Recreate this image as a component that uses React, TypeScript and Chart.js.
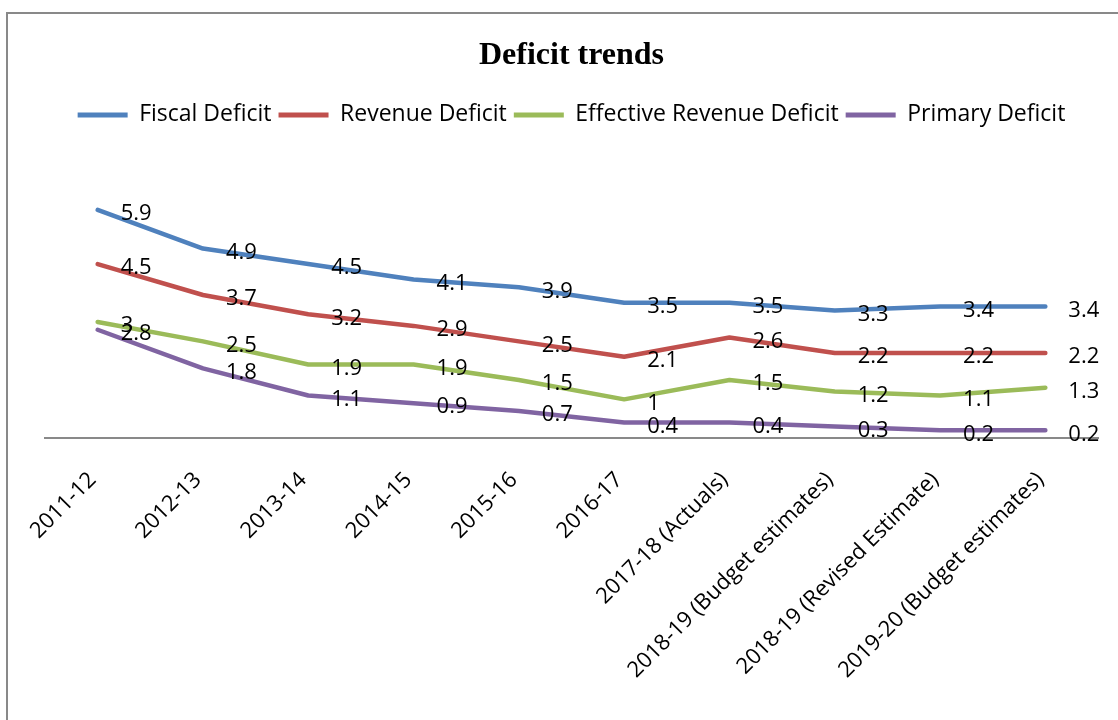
import React, { useEffect, useRef } from "react";
import { Chart, registerables } from "chart.js";

Chart.register(...registerables);

const categories = [
  "2011-12",
  "2012-13",
  "2013-14",
  "2014-15",
  "2015-16",
  "2016-17",
  "2017-18 (Actuals)",
  "2018-19 (Budget estimates)",
  "2018-19 (Revised Estimate)",
  "2019-20 (Budget estimates)",
];

const fiscalDeficit = [5.9, 4.9, 4.5, 4.1, 3.9, 3.5, 3.5, 3.3, 3.4, 3.4];
const revenueDeficit = [4.5, 3.7, 3.2, 2.9, 2.5, 2.1, 2.6, 2.2, 2.2, 2.2];
const effectiveRevenueDeficit = [3, 2.5, 1.9, 1.9, 1.5, 1, 1.5, 1.2, 1.1, 1.3];
const primaryDeficit = [2.8, 1.8, 1.1, 0.9, 0.7, 0.4, 0.4, 0.3, 0.2, 0.2];

const seriesNames = [
  "Fiscal Deficit",
  "Revenue Deficit",
  "Effective Revenue Deficit",
  "Primary Deficit",
];
const seriesColors = ["#4F81BD", "#C0504D", "#9BBB59", "#8064A2"];

const FONT = "'Open Sans', 'Noto Sans', sans-serif";

const dataLabelsPlugin = {
  id: "dataLabels",
  afterDatasetsDraw(chart: any) {
    const ctx = chart.ctx;
    ctx.save();
    ctx.font = `22px ${FONT}`;
    ctx.fillStyle = "#000";
    ctx.textAlign = "left";
    ctx.textBaseline = "middle";
    chart.data.datasets.forEach((ds: any, i: number) => {
      const meta = chart.getDatasetMeta(i);
      meta.data.forEach((pt: any, j: number) => {
        ctx.fillText(String(ds.data[j]), pt.x + 23, pt.y + 4);
      });
    });
    ctx.restore();
  },
};

const legendHeightPlugin = {
  id: "legendHeight",
  beforeInit(chart: any) {
    const legend = chart.legend;
    if (!legend) return;
    const origFit = legend.fit;
    legend.fit = function () {
      origFit.call(this);
      this.height = 71;
    };
  },
};

export default function App() {
  const canvasRef = useRef<HTMLCanvasElement | null>(null);

  useEffect(() => {
    if (!canvasRef.current) return;
    const seriesData = [fiscalDeficit, revenueDeficit, effectiveRevenueDeficit, primaryDeficit];
    const chart = new Chart(canvasRef.current, {
      type: "line",
      data: {
        labels: categories,
        datasets: seriesData.map((d, i) => ({
          label: seriesNames[i],
          data: d,
          borderColor: seriesColors[i],
          backgroundColor: seriesColors[i],
          borderWidth: 4.5,
          borderCapStyle: "round",
          borderJoinStyle: "round",
          pointRadius: 0,
          pointHoverRadius: 0,
          tension: 0,
          fill: false,
        })),
      },
      options: {
        animation: false,
        responsive: true,
        maintainAspectRatio: false,
        layout: { padding: { left: 45, right: 20, top: 0, bottom: 0 } },
        plugins: {
          tooltip: { enabled: false },
          title: {
            display: true,
            text: "Deficit trends",
            color: "#000",
            font: { family: "'Liberation Serif', 'Times New Roman', serif", size: 32, weight: "bold" },
            padding: { top: 37, bottom: 21 },
          },
          legend: {
            display: true,
            position: "top",
            labels: {
              color: "#000",
              font: { family: FONT, size: 23 },
              boxWidth: 50,
              boxHeight: 5,
              useBorderRadius: true,
              borderRadius: 2.5,
              padding: 7,
              generateLabels: (c: any) =>
                c.data.datasets.map((ds: any, i: number) => ({
                  text: ds.label,
                  fillStyle: ds.borderColor,
                  strokeStyle: ds.borderColor,
                  lineWidth: 0,
                  hidden: false,
                  datasetIndex: i,
                  fontColor: "#000",
                })),
            },
          },
        },
        scales: {
          x: {
            offset: true,
            grid: { display: false },
            border: { display: true, color: "#898989", width: 2 },
            ticks: {
              autoSkip: false,
              minRotation: 45,
              maxRotation: 45,
              padding: 21,
              labelOffset: -5,
              color: "#000",
              font: { family: FONT, size: 22 },
            },
            afterFit: (axis: any) => {
              axis.height = 282;
            },
          },
          y: {
            display: false,
            min: 0,
            max: 7,
          },
        },
      },
      plugins: [dataLabelsPlugin, legendHeightPlugin],
    } as any);
    return () => chart.destroy();
  }, []);

  return (
    <div
      style={{
        position: "fixed",
        left: 0,
        top: 0,
        width: 1118,
        height: 720,
        overflow: "hidden",
        background: "#fff",
      }}
    >
      <div
        style={{
          position: "absolute",
          left: 6,
          top: 12,
          width: 1200,
          height: 800,
          borderTop: "2px solid #898989",
          borderLeft: "2px solid #898989",
        }}
      />
      <div style={{ position: "absolute", left: 0, top: 0, width: 1118, height: 720 }}>
        <canvas ref={canvasRef} />
      </div>
    </div>
  );
}
